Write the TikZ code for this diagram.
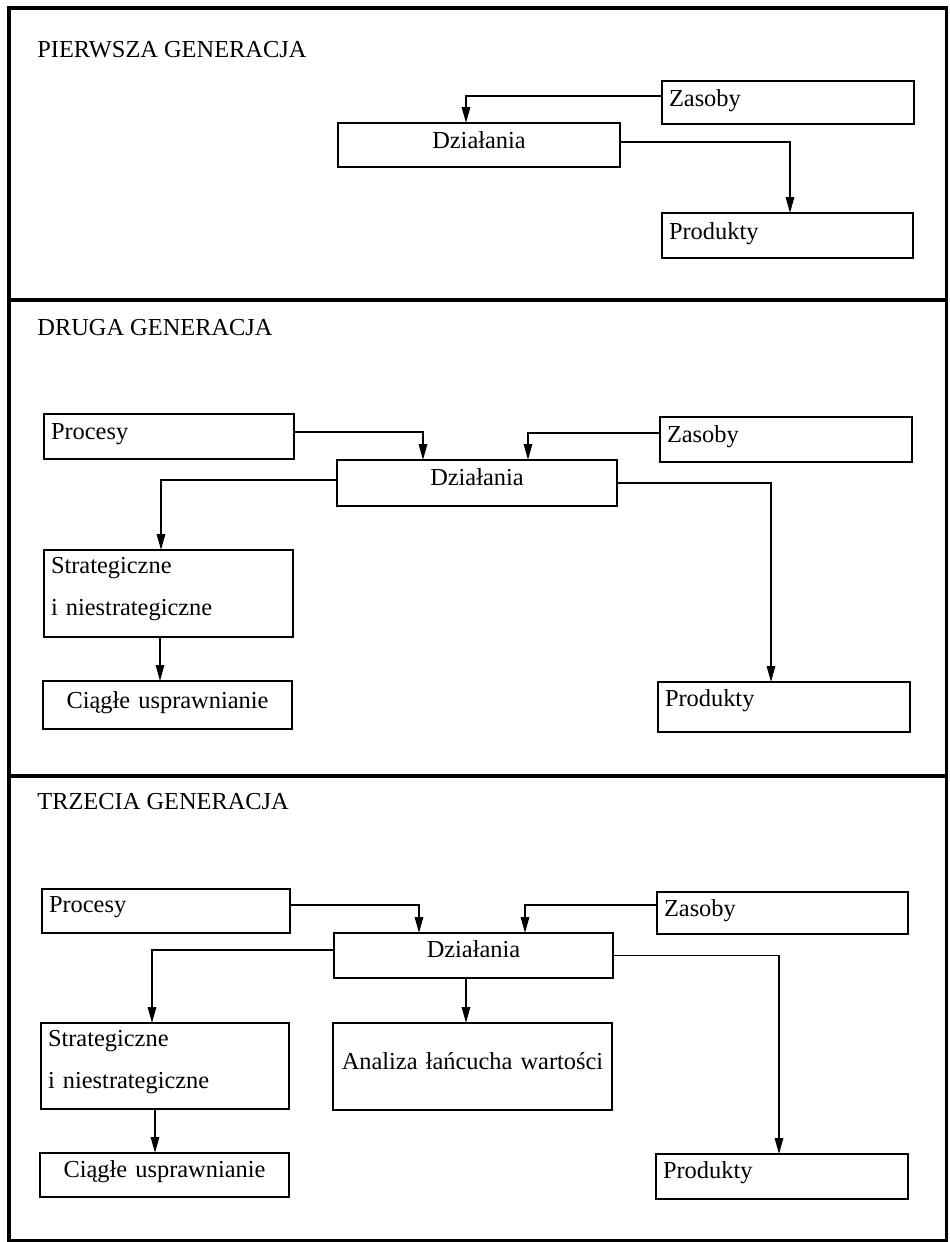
\documentclass[tikz,border=0pt]{standalone}
\usepackage{fontspec}
\setmainfont{Liberation Serif}
\usetikzlibrary{arrows.meta}

% #1 = box width, #2 = box height, #3 = first baseline below the top edge (all in px, 1px = 0.5pt)
\tikzset{
  px/.style={x=0.5pt, y=-0.5pt},
  frameline/.style={line width=2.2pt, line cap=rect},
  frameedge/.style={line width=1.5pt, line cap=rect},
  boxbase/.style={draw, line width=1.1pt, anchor=north west, inner ysep=0pt,
    inner xsep=3.5pt, outer sep=0pt, font=\fontsize{12.2}{21}\selectfont},
  lbox/.style n args={3}{boxbase, align=left, text width=#1*0.5pt-7pt,
    text height=#3*0.5pt, text depth=(#2-#3)*0.5pt},
  cbox/.style n args={3}{boxbase, align=center, text width=#1*0.5pt-7pt,
    text height=#3*0.5pt, text depth=(#2-#3)*0.5pt},
  heading/.style={anchor=base west, inner sep=0pt, font=\fontsize{12.2}{14}\selectfont},
  arr/.style={line width=0.95pt, -{Triangle[length=8pt,width=4.2pt]}},
}

\begin{document}
\begin{tikzpicture}[px]
\useasboundingbox (0,0) rectangle (949,1242);

% outer frame and the two separators
\draw[frameline] (9,1240) -- (9,8) -- (946,8);
\draw[frameedge] (946,8) -- (946,1240) -- (9,1240);
\draw[frameline] (9,300) -- (946,300);
\draw[frameline] (9,776) -- (946,776);

% ---------- first generation ----------
\node[heading] (t1) at (37,57) {PIERWSZA GENERACJA};
\node[lbox={252}{43}{25}] (zas1) at (662,81) {Zasoby};
\node[cbox={282}{44}{25}] (dz1) at (338,123) {Działania};
\node[lbox={251}{45}{26}] (prod1) at (662,213) {Produkty};

\draw[arr] ([yshift=3.25pt]zas1.west) -| ([xshift=-6.5pt]dz1.north);
\draw[arr] ([yshift=1.5pt]dz1.east) -| ([xshift=1.25pt]prod1.north);

% ---------- second generation ----------
\node[heading] (t2) at (37,335) {DRUGA GENERACJA};
\node[lbox={250}{45}{25}] (proc2) at (44,414) {Procesy};
\node[lbox={252}{45}{25}] (zas2) at (660,417) {Zasoby};
\node[cbox={280}{46}{25}] (dz2) at (337,460) {Działania};
\node[lbox={249}{87}{23}] (str2) at (44,550) {Strategiczne\\i niestrategiczne};
\node[cbox={249}{48}{27}] (cia2) at (43,681) {Ciągłe usprawnianie};
\node[lbox={252}{50}{24}] (prod2) at (658,682) {Produkty};

\draw[arr] ([yshift=2.25pt]proc2.east) -| ([xshift=-27pt]dz2.north);
\draw[arr] ([yshift=3.25pt]zas2.west) -| ([xshift=25.5pt]dz2.north);
\draw[arr] ([yshift=1.5pt]dz2.west) -| ([xshift=-3.75pt]str2.north);
\draw[arr] (dz2.east) -| ([xshift=-6.5pt]prod2.north);
\draw[arr] ([xshift=-4.25pt]str2.south) -- ([xshift=-4.25pt]str2.south |- cia2.north);

% ---------- third generation ----------
\node[heading] (t3) at (37,809) {TRZECIA GENERACJA};
\node[lbox={248}{44}{23}] (proc3) at (42,889) {Procesy};
\node[lbox={251}{42}{24}] (zas3) at (657,892) {Zasoby};
\node[cbox={279}{45}{24}] (dz3) at (334,933) {Działania};
\node[lbox={248}{86}{23}] (str3) at (41,1023) {Strategiczne\\i niestrategiczne};
\node[cbox={249}{44}{24}] (cia3) at (40,1153) {Ciągłe usprawnianie};
\node[cbox={279}{87}{46}] (ana3) at (333,1023) {Analiza łańcucha wartości};
\node[lbox={252}{45}{24}] (prod3) at (656,1154) {Produkty};

\draw[arr] ([yshift=3pt]proc3.east) -| ([xshift=-27.25pt]dz3.north);
\draw[arr] ([yshift=4pt]zas3.west) -| ([xshift=25.75pt]dz3.north);
\draw[arr] ([yshift=2.75pt]dz3.west) -| ([xshift=-6.5pt]str3.north);
\draw[arr] ([xshift=-3.75pt]dz3.south) -- ([xshift=-3.75pt]dz3.south |- ana3.north);
\draw[arr] (dz3.east) -| ([xshift=-1.5pt]prod3.north);
\draw[arr] ([xshift=-5pt]str3.south) -- ([xshift=-5pt]str3.south |- cia3.north);
\end{tikzpicture}
\end{document}
